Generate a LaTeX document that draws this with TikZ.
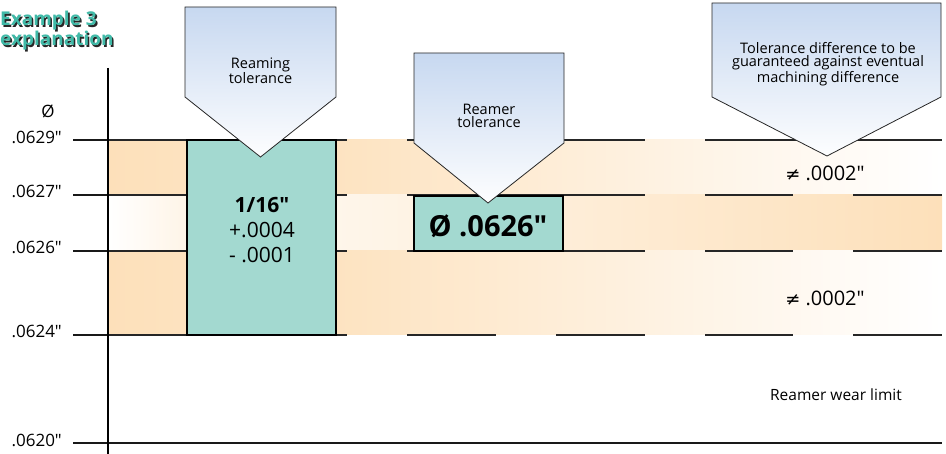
\documentclass[tikz,border=0pt]{standalone}
\usepackage{fontspec}
\setmainfont{Open Sans}[Ligatures=TeXOff]
\newfontfamily\symfont{DejaVu Sans}
\definecolor{peach}{RGB}{253,224,186}
\definecolor{boxgreen}{RGB}{163,217,208}
\definecolor{callblue}{RGB}{199,216,240}
\definecolor{teal}{RGB}{64,186,168}
\begin{document}
\begin{tikzpicture}[x=1pt,y=-1pt,
  gline/.style={line width=1.2pt, draw=black!85},
  tick/.style={line width=2.2pt, draw=black!90},
  gbox/.style={draw, line width=2.4pt, fill=boxgreen, inner sep=0pt},
  callout/.style={draw=black!85, line width=0.8pt, top color=callblue, bottom color=white!97!callblue},
  lbl/.style={font=\fontsize{17}{19}\selectfont, anchor=east, inner sep=0pt},
  ctext/.style={font=\fontsize{14.5}{13.5}\selectfont, align=center, inner sep=0pt},
  vtext/.style={font=\fontsize{21}{25}\selectfont, inner sep=0pt},
  ttl/.style={font=\fontsize{19}{19}\selectfont\bfseries, anchor=base west, inner sep=0pt}
  ]
\useasboundingbox (0,0) rectangle (946,454);
% bands
\fill[left color=peach, right color=peach!92!white] (108,140) rectangle (187,195);
\fill[left color=peach!90!white, right color=white] (336,140) rectangle (942,195);
\fill[left color=white, right color=peach!35!white] (108,195) rectangle (187,251);
\fill[left color=peach!30!white, right color=peach] (336,195) rectangle (942,251);
\fill[left color=peach, right color=peach!92!white] (108,251) rectangle (187,335);
\fill[left color=peach!90!white, right color=white] (336,251) rectangle (942,335);
% grid lines
\draw[gline] (108,140)--(347,140) (407,140)--(645,140) (705,140)--(942,140);
\draw[gline] (108,195)--(347,195) (407,195)--(645,195) (705,195)--(793,195) (853,195)--(942,195);
\draw[gline] (108,251)--(347,251) (407,251)--(645,251) (705,251)--(793,251) (853,251)--(942,251);
\draw[gline] (108,335)--(347,335) (407,335)--(496,335) (556,335)--(645,335) (705,335)--(793,335) (853,335)--(942,335);
% ticks
\foreach \yy in {140,195,251,335} \draw[tick] (73,\yy) -- (108,\yy);
\draw[tick] (73,443) -- (942,443);
% axis
\draw[line width=1.5pt] (108,68) -- (108,454);
% labels
\node[inner sep=0pt, font=\fontsize{17}{19}\selectfont] (phi) at (48,111) {Ø};
\node[lbl] (l29) at (62,137) {.0629"};
\node[lbl] (l27) at (62,191) {.0627"};
\node[lbl] (l26) at (62,247) {.0626"};
\node[lbl] (l24) at (62,331) {.0624"};
\node[lbl] (l20) at (62,440) {.0620"};
% boxes
\node[gbox, minimum width=149pt, minimum height=195pt] (box1) at (261.5,237.5) {};
\node[vtext, font=\fontsize{21}{25}\selectfont\bfseries] (b1a) at (262,205) {1/16"};
\node[vtext] (b1b) at (262,230) {+.0004};
\node[vtext] (b1c) at (262,255) {- .0001};
\node[gbox, minimum width=149pt, minimum height=55pt] (box2) at (488.5,223.5) {};
\node[inner sep=0pt, font=\fontsize{29}{32}\selectfont\bfseries] (b2a) at (488,226) {Ø .0626"};
% callouts
\draw[callout] (185,7) -- (336,7) -- (336,97) -- (260.5,157) -- (185,97) -- cycle;
\node[ctext] (c1) at (260.5,71) {Reaming\\tolerance};
\draw[callout] (414,53) -- (564,53) -- (564,143) -- (488,203) -- (414,143) -- cycle;
\node[ctext] (c2) at (489,116) {Reamer\\tolerance};
\draw[callout] (712,3) -- (941,3) -- (941,97) -- (827,156) -- (712,97) -- cycle;
\node[ctext] (c3) at (828,64) {Tolerance difference to be\\guaranteed against eventual\\machining difference};
% values
\node[inner sep=0pt, font=\fontsize{20}{22}\selectfont] (d1) at (825,173) {{\symfont\fontsize{18}{20}\selectfont ≠} .0002"};
\node[inner sep=0pt, font=\fontsize{20}{22}\selectfont] (d2) at (825,298) {{\symfont\fontsize{18}{20}\selectfont ≠} .0002"};
\node[inner sep=0pt, font=\fontsize{15.5}{17}\selectfont] (wear) at (836,395) {Reamer wear limit};
% title
\node[ttl, text=black!85] at (1.6,27.6) {Example 3};
\node[ttl, text=black!85] at (1.6,47.6) {explanation};
\node[ttl, text=teal] (t1) at (0,26) {Example 3};
\node[ttl, text=teal] (t2) at (0,46) {explanation};
\end{tikzpicture}
\end{document}
